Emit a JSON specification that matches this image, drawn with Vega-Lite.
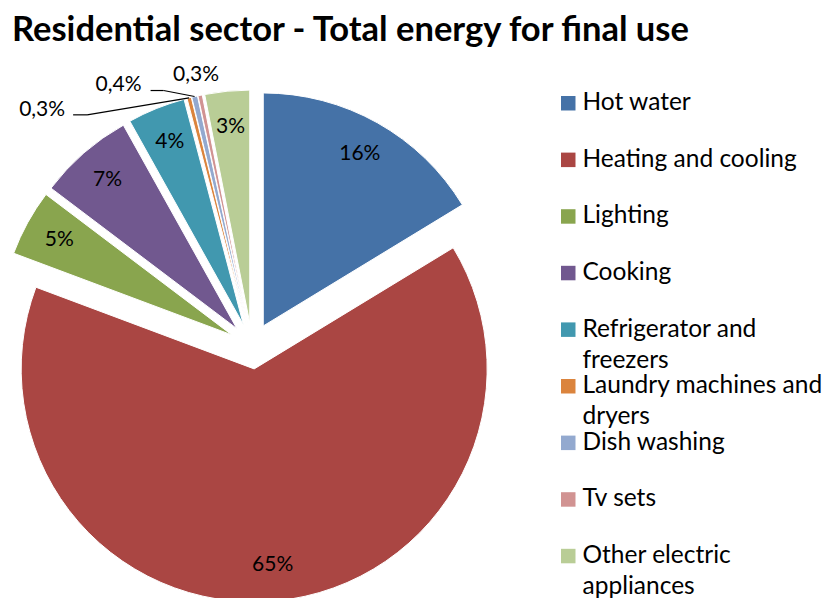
{
  "$schema": "https://vega.github.io/schema/vega-lite/v6.json",
  "autosize": "none",
  "width": 504,
  "height": 504,
  "padding": {"left": 0, "top": 94, "right": 324, "bottom": 0},
  "background": "white",
  "title": {
    "text": "Residential sector - Total energy for final use",
    "anchor": "start",
    "frame": "group",
    "font": "Lato",
    "fontSize": 34.5,
    "fontWeight": "bold",
    "color": "black",
    "baseline": "alphabetic",
    "offset": -11,
    "dx": 12
  },
  "config": {
    "view": {"stroke": null},
    "style": {"guide-label": {"lineHeight": 31}}
  },
  "data": {
    "values": [
      {"category": "Hot water", "value": 16.3, "label": "16%"},
      {"category": "Heating and cooling", "value": 64.4, "label": "65%"},
      {"category": "Lighting", "value": 4.6, "label": "5%"},
      {"category": "Cooking", "value": 6.6, "label": "7%"},
      {"category": "Refrigerator and freezers", "value": 4.0, "label": "4%"},
      {"category": "Laundry machines and dryers", "value": 0.3, "label": "0,3%"},
      {"category": "Dish washing", "value": 0.4, "label": "0,4%"},
      {"category": "Tv sets", "value": 0.3, "label": "0,3%"},
      {"category": "Other electric appliances", "value": 3.1, "label": "3%"}
    ]
  },
  "transform": [
    {"stack": "value", "groupby": [], "as": ["s0", "s1"]}
  ],
  "layer": [
    {
      "mark": {
        "type": "arc",
        "outerRadius": 233,
        "stroke": "white",
        "strokeWidth": 1,
        "x": {"expr": "width/2 + 23*sin(PI*(datum.s0+datum.s1)/100)"},
        "y": {"expr": "height/2 - 23*cos(PI*(datum.s0+datum.s1)/100)"}
      },
      "encoding": {
        "theta": {"field": "s0", "type": "quantitative", "scale": {"domain": [0, 100], "range": [0, 6.283185307179586], "nice": false, "zero": true}},
        "theta2": {"field": "s1"},
        "color": {
          "field": "category",
          "type": "nominal",
          "scale": {
            "domain": ["Hot water", "Heating and cooling", "Lighting", "Cooking", "Refrigerator and freezers", "Laundry machines and dryers", "Dish washing", "Tv sets", "Other electric appliances"],
            "range": ["#4572A7", "#AA4643", "#89A54E", "#71588F", "#4198AF", "#DB843D", "#93A9CF", "#D19392", "#B9CD96"]
          },
          "legend": {
            "orient": "none",
            "legendX": 556,
            "legendY": -3,
            "title": null,
            "padding": 0,
            "symbolType": "square",
            "symbolSize": 210,
            "symbolStrokeWidth": 0,
            "labelFont": "Lato",
            "labelFontSize": 24.5,
            "labelColor": "black",
            "labelOffset": 2,
            "labelLimit": 400,
            "labelBaseline": "middle",
            "rowPadding": 0.6,
            "labelExpr": "datum.label == 'Refrigerator and freezers' ? ['Refrigerator and', 'freezers'] : datum.label == 'Laundry machines and dryers' ? ['Laundry machines and', 'dryers'] : datum.label == 'Other electric appliances' ? ['Other electric', 'appliances'] : [datum.label, '']"
          }
        }
      }
    },
    {
      "transform": [{"filter": "datum.value >= 1"}],
      "mark": {
        "type": "text", "font": "Lato", "fontSize": 21, "color": "black", "align": "center", "baseline": "middle",
        "x": {"expr": "width/2 + 220*sin(PI*(datum.s0+datum.s1)/100)"},
        "y": {"expr": "height/2 - 220*cos(PI*(datum.s0+datum.s1)/100)"}
      },
      "encoding": {
        "text": {"field": "label"}
      }
    },
    {
      "transform": [{"filter": "datum.value < 1"}],
      "mark": {
        "type": "text", "font": "Lato", "fontSize": 21, "color": "black", "align": "center", "baseline": "middle",
        "x": {"expr": "width/2 + 256*sin(PI*(datum.s0+datum.s1)/100) + (datum.category == 'Laundry machines and dryers' ? -147 : datum.category == 'Dish washing' ? -76 : -4)"},
        "y": {"expr": "height/2 - 256*cos(PI*(datum.s0+datum.s1)/100) + (datum.category == 'Laundry machines and dryers' ? 12 : datum.category == 'Dish washing' ? -12 : -20)"}
      },
      "encoding": {
        "text": {"field": "label"}
      }
    },
    {
      "transform": [
        {"filter": "datum.category == 'Laundry machines and dryers' || datum.category == 'Dish washing'"}
      ],
      "mark": {"type": "rule", "color": "black", "strokeWidth": 1.2},
      "encoding": {
        "x": {"value": {"expr": "width/2 + 256*sin(PI*(datum.s0+datum.s1)/100)"}},
        "y": {"value": {"expr": "height/2 - 256*cos(PI*(datum.s0+datum.s1)/100)"}},
        "x2": {"value": {"expr": "width/2 + 256*sin(PI*(datum.s0+datum.s1)/100) + (datum.category == 'Dish washing' ? -31 : -102)"}},
        "y2": {"value": {"expr": "height/2 - 256*cos(PI*(datum.s0+datum.s1)/100) + (datum.category == 'Dish washing' ? -6 : 17)"}}
      }
    },
    {
      "transform": [
        {"filter": "datum.category == 'Laundry machines and dryers' || datum.category == 'Dish washing'"}
      ],
      "mark": {"type": "rule", "color": "black", "strokeWidth": 1.2},
      "encoding": {
        "x": {"value": {"expr": "width/2 + 256*sin(PI*(datum.s0+datum.s1)/100) + (datum.category == 'Dish washing' ? -31 : -102)"}},
        "y": {"value": {"expr": "height/2 - 256*cos(PI*(datum.s0+datum.s1)/100) + (datum.category == 'Dish washing' ? -6 : 17)"}},
        "x2": {"value": {"expr": "width/2 + 256*sin(PI*(datum.s0+datum.s1)/100) + (datum.category == 'Dish washing' ? -44 : -116)"}},
        "y2": {"value": {"expr": "height/2 - 256*cos(PI*(datum.s0+datum.s1)/100) + (datum.category == 'Dish washing' ? -6 : 17)"}}
      }
    }
  ]
}
